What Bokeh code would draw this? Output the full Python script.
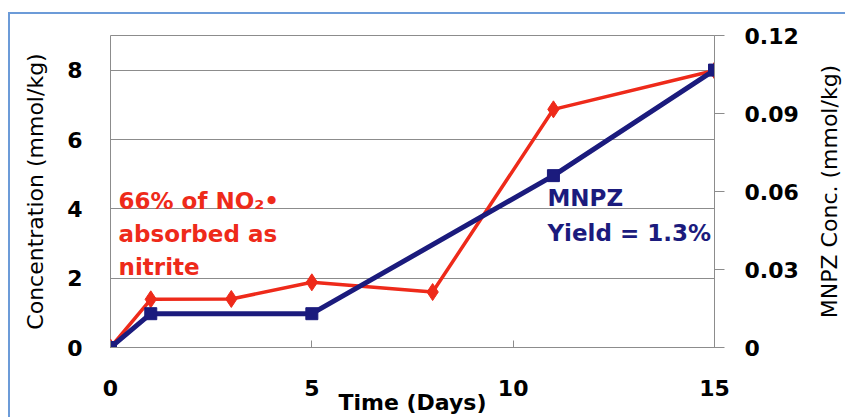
from bokeh.plotting import figure
from bokeh.layouts import row
from bokeh.models import Range1d, LinearAxis, FixedTicker, Label
from bokeh.embed import file_html
from bokeh.resources import INLINE

# ---- data ----
days_nitrite = [0, 1, 3, 5, 8, 11, 15]
nitrite_conc = [0, 1.39, 1.40, 1.88, 1.60, 6.87, 7.99]
days_mnpz = [0, 1, 5, 11, 15]
mnpz_conc = [0, 0.013, 0.013, 0.0661, 0.1067]
x_ticks = [0, 5, 10, 15]
left_ticks = [0, 2, 4, 6, 8]
right_ticks = [0, 0.03, 0.06, 0.09, 0.12]
right_tick_labels = ["0", "0.03", "0.06", "0.09", "0.12"]
right_title = "MNPZ Conc. (mmol/kg)"

RED = "#ee2a1a"
NAVY = "#1b1b7d"
GRID = "#8c8c8c"
FONT = "DejaVu Sans"

p = figure(width=800, height=403, output_backend="svg", toolbar_location=None,
           x_range=Range1d(0, 15), y_range=Range1d(0, 9),
           min_border_left=100, min_border_right=96, min_border_top=21, min_border_bottom=70)
p.extra_y_ranges = {"mnpz": Range1d(0, 0.12)}
p.outline_line_color = GRID
p.outline_line_width = 1
p.background_fill_color = "white"
p.border_fill_color = "white"

p.xgrid.grid_line_color = None
p.ygrid.grid_line_color = GRID
p.ygrid.ticker = FixedTicker(ticks=left_ticks)

# x axis
xa = p.xaxis[0]
xa.ticker = FixedTicker(ticks=x_ticks)
xa.axis_line_color = GRID
xa.major_tick_line_color = GRID
xa.major_tick_in = 7
xa.major_tick_out = 0
xa.minor_tick_line_color = None
xa.major_label_standoff = 32
xa.major_label_text_font = FONT
xa.major_label_text_font_style = "bold"
xa.major_label_text_font_size = "22px"
xa.major_label_text_color = "black"
xa.axis_label = "Time (Days)"
xa.axis_label_text_font = FONT
xa.axis_label_text_font_style = "bold"
xa.axis_label_text_font_size = "22px"
xa.axis_label_text_color = "black"
xa.axis_label_standoff = -9

# left axis
ya = p.yaxis[0]
ya.ticker = FixedTicker(ticks=left_ticks)
ya.axis_line_color = None
ya.major_tick_line_color = GRID
ya.major_tick_in = 0
ya.major_tick_out = 0
ya.minor_tick_line_color = None
ya.major_label_standoff = 28
ya.major_label_text_font = FONT
ya.major_label_text_font_style = "bold"
ya.major_label_text_font_size = "22px"
ya.major_label_text_color = "black"
ya.axis_label = "Concentration (mmol/kg)"
ya.axis_label_text_font = FONT
ya.axis_label_text_font_style = "normal"
ya.axis_label_text_font_size = "22px"
ya.axis_label_text_color = "black"
ya.axis_label_standoff = 16

# right axis (ticks + labels)
ra = LinearAxis(y_range_name="mnpz", ticker=FixedTicker(ticks=right_ticks))
ra.major_label_overrides = {t: s for t, s in zip(right_ticks, right_tick_labels)}
ra.axis_line_color = GRID
ra.major_tick_line_color = GRID
ra.major_tick_in = 0
ra.major_tick_out = 10
ra.minor_tick_line_color = None
ra.major_label_standoff = 20
ra.major_label_text_font = FONT
ra.major_label_text_font_style = "bold"
ra.major_label_text_font_size = "22px"
ra.major_label_text_color = "black"
p.add_layout(ra, "right")

# series
p.line(days_nitrite, nitrite_conc, line_color=RED, line_width=3.5)
p.scatter(days_nitrite, nitrite_conc, marker="diamond", size=17,
          fill_color=RED, line_color=RED)
p.line(days_mnpz, mnpz_conc, line_color=NAVY, line_width=5, y_range_name="mnpz")
p.scatter(days_mnpz, mnpz_conc, marker="square", size=12,
          fill_color=NAVY, line_color=NAVY, y_range_name="mnpz")

# annotations
red_lines = ["66% of NO\u2082\u2022", "absorbed as", "nitrite"]
for i, t in enumerate(red_lines):
    p.add_layout(Label(x=0.2, y=4.22 - i * 0.95, text=t, text_color=RED,
                       text_font=FONT, text_font_style="bold", text_font_size="23px",
                       text_baseline="middle"))
blue_lines = ["MNPZ", "Yield = 1.3%"]
for i, t in enumerate(blue_lines):
    p.add_layout(Label(x=10.85, y=4.3 - i * 1.0, text=t, text_color=NAVY,
                       text_font=FONT, text_font_style="bold", text_font_size="23px",
                       text_baseline="middle"))

# narrow companion figure carrying the right-hand title (reads bottom-to-top)
p2 = figure(width=35, height=403, output_backend="svg", toolbar_location=None,
            x_range=Range1d(0, 1), y_range=Range1d(0, 0.12),
            min_border_left=33, min_border_right=0, min_border_top=21, min_border_bottom=70)
p2.outline_line_color = None
p2.background_fill_color = "white"
p2.border_fill_color = "white"
p2.xgrid.grid_line_color = None
p2.ygrid.grid_line_color = None
p2.xaxis.visible = False
ta = p2.yaxis[0]
ta.ticker = FixedTicker(ticks=[])
ta.axis_line_color = None
ta.major_tick_line_color = None
ta.minor_tick_line_color = None
ta.major_tick_in = 0
ta.major_tick_out = 0
ta.major_label_standoff = 0
ta.axis_label = right_title
ta.axis_label_text_font = FONT
ta.axis_label_text_font_style = "normal"
ta.axis_label_text_font_size = "22px"
ta.axis_label_text_color = "black"
ta.axis_label_standoff = 2

layout = row(p, p2, spacing=0)
layout.margin = (12, 0, 0, 8)
layout.styles = {"border-top": "2px solid #6c9bd8", "border-left": "2px solid #6c9bd8"}

open("out.html", "w").write(file_html(layout, INLINE))
